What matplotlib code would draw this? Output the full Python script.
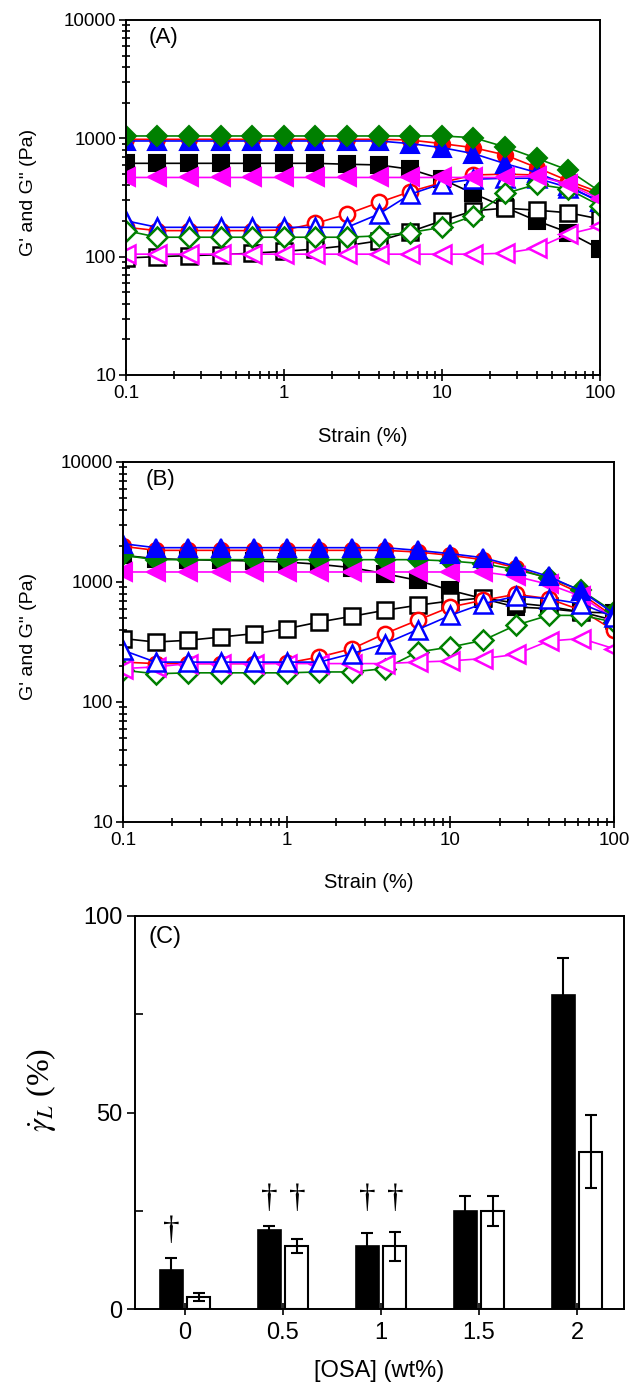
import matplotlib.pyplot as plt
import numpy as np
from matplotlib.ticker import FixedLocator, LogLocator, NullFormatter

plt.rcParams['font.family'] = ['Liberation Sans', 'DejaVu Sans']
plt.rcParams['mathtext.fontset'] = 'stix'

strain = [0.1, 0.158, 0.251, 0.398, 0.631, 1.0, 1.58, 2.51, 3.98, 6.31,
          10.0, 15.8, 25.1, 39.8, 63.1, 100.0]

# (A) G' (filled) and G'' (open)
a_gp_black = [615, 615, 615, 615, 615, 615, 615, 604, 596, 548, 452, 342, 261, 201, 160, 116]
a_gpp_black = [97.5, 100, 102, 104, 107, 111, 116, 124, 136, 163, 201, 244, 257, 247, 235, 208]
a_gp_red = [981, 981, 981, 981, 981, 981, 981, 981, 981, 967, 902, 834, 724, 566, 437, 348]
a_gpp_red = [177, 166, 166, 166, 166, 168, 191, 229, 287, 355, 423, 490, 498, 490, 415, 327]
a_gp_blue = [950, 950, 950, 950, 950, 950, 950, 950, 950, 902, 834, 743, 611, 514, 397, 287]
a_gpp_blue = [201, 177, 177, 177, 177, 177, 177, 177, 229, 337, 415, 451, 460, 460, 384, 296]
a_gp_green = [1047, 1047, 1047, 1047, 1047, 1047, 1047, 1047, 1047, 1047, 1047, 1013, 845, 678, 538, 355]
a_gpp_green = [166, 146, 146, 146, 146, 146, 146, 146, 150, 160, 177, 222, 342, 409, 372, 270]
a_gp_mag = [467, 467, 467, 467, 467, 467, 467, 467, 467, 467, 467, 467, 467, 482, 409, 306]
a_gpp_mag = [105, 105, 105, 105, 105, 105, 105, 105, 105, 105, 105, 105, 107, 118, 155, 180]

# (B)
b_gp_black = [1668, 1565, 1535, 1516, 1496, 1468, 1403, 1316, 1173, 1032, 852, 727, 619, 600, 562, 551]
b_gpp_black = [338, 316, 327, 348, 371, 408, 464, 518, 581, 640, 695, 736, 668, 627, 562, 480]
b_gp_red = [1983, 1836, 1836, 1836, 1836, 1836, 1836, 1836, 1836, 1778, 1668, 1535, 1316, 1066, 800, 511]
b_gpp_red = [215, 209, 209, 209, 209, 211, 237, 278, 371, 480, 619, 704, 789, 727, 581, 395]
b_gp_blue = [2086, 1932, 1932, 1932, 1932, 1932, 1932, 1932, 1932, 1836, 1722, 1595, 1351, 1115, 841, 545]
b_gpp_blue = [270, 215, 215, 215, 215, 215, 215, 253, 306, 401, 527, 659, 760, 727, 659, 511]
b_gp_green = [1668, 1535, 1535, 1535, 1535, 1535, 1535, 1535, 1535, 1535, 1496, 1422, 1267, 1087, 852, 562]
b_gpp_green = [184, 172, 175, 175, 175, 175, 178, 178, 190, 261, 287, 326, 436, 527, 527, 464]
b_gp_mag = [1212, 1212, 1212, 1212, 1212, 1212, 1212, 1212, 1212, 1212, 1212, 1212, 1115, 956, 760, 494]
b_gpp_mag = [190, 196, 209, 209, 209, 209, 209, 209, 209, 215, 220, 230, 249, 322, 338, 278]

# (C) linear viscoelastic limit
osa = [0, 0.5, 1, 1.5, 2]
gl_filled = [10, 20, 16, 25, 80]
gl_filled_err = [3, 1, 3.4, 3.8, 9.3]
gl_open = [3, 16, 16, 25, 40]
gl_open_err = [1, 1.8, 3.7, 3.8, 9.3]
dag_filled = [True, True, True, False, False]
dag_open = [False, True, True, False, False]
dag_y = [20, 28, 28, 0, 0]

styles = {'black': ('black', 's', 11),
          'red': ('red', 'o', 11),
          'blue': ('blue', '^', 12.5),
          'green': ('green', 'D', 10),
          'mag': ('magenta', '<', 12.5)}

fig = plt.figure(figsize=(6.34, 13.89), dpi=100)
axA = fig.add_axes([126/634, 1-375/1389, 474/634, 355/1389])
axB = fig.add_axes([123/634, 1-822/1389, 491/634, 360/1389])
axC = fig.add_axes([135/634, 1-1309/1389, 489/634, 393/1389])


def sweep(ax, series, order, label, ylab_x, xlab_y):
    for key in order:
        col, mk, ms = styles[key]
        gp, gpp = series[key]
        ax.plot(strain, gp, color=col, marker=mk, ms=ms, mfc=col, mec=col,
                mew=1.5, lw=1.2)
        ax.plot(strain, gpp, color=col, marker=mk, ms=ms, mfc='white', mec=col,
                mew=1.8, lw=1.2)
    ax.set_xscale('log')
    ax.set_yscale('log')
    ax.set_xlim(0.1, 100)
    ax.set_ylim(10, 10000)
    ax.xaxis.set_major_locator(FixedLocator([0.1, 1, 10, 100]))
    ax.set_xticklabels(['0.1', '1', '10', '100'])
    ax.yaxis.set_major_locator(FixedLocator([10, 100, 1000, 10000]))
    ax.set_yticklabels(['10', '100', '1000', '10000'])
    ax.xaxis.set_minor_locator(LogLocator(base=10, subs=np.arange(2, 10)))
    ax.yaxis.set_minor_locator(LogLocator(base=10, subs=np.arange(2, 10)))
    ax.xaxis.set_minor_formatter(NullFormatter())
    ax.yaxis.set_minor_formatter(NullFormatter())
    ax.tick_params(axis='x', which='major', direction='inout', length=9, width=1.2,
                   labelsize=13.5, pad=3)
    ax.tick_params(axis='x', which='minor', direction='inout', length=6, width=1.2)
    ax.tick_params(axis='y', which='major', direction='out', length=5, width=1.2,
                   labelsize=13.5, pad=2)
    ax.tick_params(axis='y', which='minor', direction='inout', length=6, width=1.2)
    for s in ax.spines.values():
        s.set_linewidth(1.4)
    ax.set_xlabel('Strain (%)', fontsize=14.5)
    ax.set_ylabel('G\' and G" (Pa)', fontsize=14)
    ax.xaxis.set_label_coords(0.5, xlab_y)
    ax.yaxis.set_label_coords(ylab_x, 0.515)
    ax.text(0.047, 0.95, label, transform=ax.transAxes, fontsize=16,
            ha='left', va='center')


sweep(axA, {'black': (a_gp_black, a_gpp_black), 'red': (a_gp_red, a_gpp_red),
            'blue': (a_gp_blue, a_gpp_blue), 'green': (a_gp_green, a_gpp_green),
            'mag': (a_gp_mag, a_gpp_mag)},
      ['black', 'red', 'blue', 'green', 'mag'], '(A)', -0.188, -0.146)
sweep(axB, {'black': (b_gp_black, b_gpp_black), 'red': (b_gp_red, b_gpp_red),
            'blue': (b_gp_blue, b_gpp_blue), 'green': (b_gp_green, b_gpp_green),
            'mag': (b_gp_mag, b_gpp_mag)},
      ['black', 'red', 'green', 'mag', 'blue'], '(B)', -0.175, -0.142)

# (C)
x = np.array(osa)
w = 0.117
off = 0.071
axC.bar(x - off, gl_filled, width=w, color='black', edgecolor='black', lw=1.2,
        yerr=gl_filled_err, capsize=4,
        error_kw=dict(elinewidth=1.5, capthick=1.5, ecolor='black'))
axC.bar(x + off, gl_open, width=w, color='white', edgecolor='black', lw=1.5,
        yerr=gl_open_err, capsize=4,
        error_kw=dict(elinewidth=1.5, capthick=1.5, ecolor='black'))
for i in range(len(osa)):
    if dag_filled[i]:
        axC.text(x[i] - off, dag_y[i], '\u2020', ha='center', va='center',
                 fontsize=24, family='Liberation Serif')
    if dag_open[i]:
        axC.text(x[i] + off, dag_y[i], '\u2020', ha='center', va='center',
                 fontsize=24, family='Liberation Serif')
axC.set_xlim(-0.255, 2.24)
axC.set_ylim(0, 100)
axC.set_xticks(osa)
axC.set_xticklabels(['0', '0.5', '1', '1.5', '2'])
axC.set_yticks([0, 50, 100])
axC.yaxis.set_minor_locator(FixedLocator([25, 75]))
axC.tick_params(axis='x', direction='inout', length=9, width=1.2, labelsize=17, pad=5)
axC.tick_params(axis='y', which='major', direction='out', length=6, width=1.2,
                labelsize=17, pad=3)
axC.tick_params(axis='y', which='minor', direction='in', length=6, width=1.2)
for s in axC.spines.values():
    s.set_linewidth(1.4)
axC.set_xlabel('[OSA] (wt%)', fontsize=17)
axC.xaxis.set_label_coords(0.5, -0.13)
axC.set_ylabel(r'$\dot{\gamma}_L$ (%)', fontsize=23, family='Liberation Serif')
axC.yaxis.set_label_coords(-0.157, 0.557)
axC.text(0.027, 0.947, '(C)', transform=axC.transAxes, fontsize=17,
         ha='left', va='center')

fig.savefig('out.png', dpi=100)
